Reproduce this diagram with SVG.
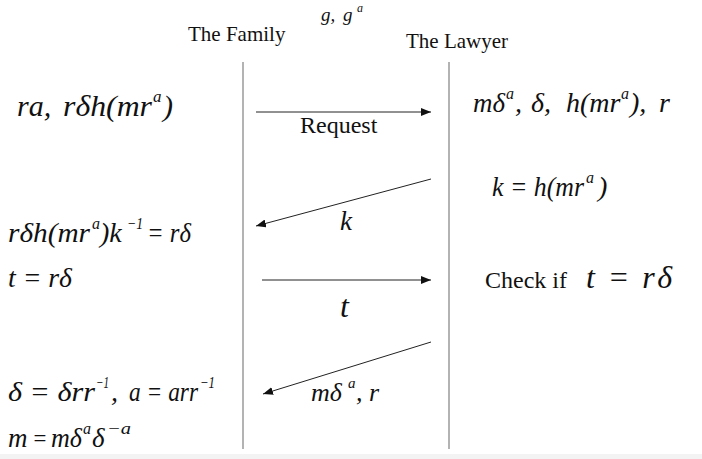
<svg xmlns="http://www.w3.org/2000/svg" width="702" height="459" viewBox="0 0 702 459">
<style>
.m { font-family: "Liberation Serif", "Times New Roman", serif; font-style: italic; fill: #111; }
.r { font-family: "Liberation Serif", "Times New Roman", serif; fill: #111; }
.life { stroke: #8a8a8a; stroke-width: 1.3; fill: none; }
.msg { stroke: #222; stroke-width: 1; fill: none; marker-end: url(#ah); }
</style>
<defs>
<marker id="ah" viewBox="0 0 10 8" refX="10" refY="4" markerWidth="10" markerHeight="8" markerUnits="userSpaceOnUse" orient="auto">
<path d="M0,0 L10,4 L0,8 Z" fill="#111"/>
</marker>
</defs>
<rect x="0" y="0" width="702" height="459" fill="#ffffff"/>
<rect x="0" y="454" width="702" height="5" fill="#f3f3f3"/>

<g id="params">
<text class="m" x="321" y="21" font-size="19">g,</text>
<text class="m" x="343" y="21" font-size="19">g</text>
<text class="m" x="357" y="12" font-size="12">a</text>
</g>

<g id="family">
<text class="r" x="188" y="41" font-size="21">The Family</text>
<line class="life" x1="243" y1="62" x2="243" y2="449"/>
</g>

<g id="lawyer">
<text class="r" x="406" y="48" font-size="21">The Lawyer</text>
<line class="life" x1="449" y1="62" x2="449" y2="449"/>
</g>

<g id="family-notes">
<g>
<text class="m" x="17" y="116" font-size="30">ra,</text>
<text class="m" x="63" y="116" font-size="30" textLength="89" lengthAdjust="spacingAndGlyphs">rδh(mr</text>
<text class="m" x="153" y="102" font-size="17">a</text>
<text class="m" x="163" y="116" font-size="30">)</text>
</g>
<g>
<text class="m" x="8" y="242" font-size="28" textLength="82" lengthAdjust="spacingAndGlyphs">rδh(mr</text>
<text class="m" x="92" y="229" font-size="16">a</text>
<text class="m" x="100" y="242" font-size="28">)k</text>
<text class="m" x="127" y="229" font-size="16" textLength="16" lengthAdjust="spacingAndGlyphs">−1</text>
<text class="m" x="147" y="242" font-size="28" textLength="44" lengthAdjust="spacingAndGlyphs">= rδ</text>
</g>
<text class="m" x="8" y="287" font-size="28" textLength="64" lengthAdjust="spacingAndGlyphs">t = rδ</text>
<g>
<text class="m" x="8" y="401" font-size="28" textLength="87" lengthAdjust="spacingAndGlyphs">δ = δrr</text>
<text class="m" x="96" y="388" font-size="16" textLength="13" lengthAdjust="spacingAndGlyphs">−1</text>
<text class="m" x="111" y="401" font-size="28">,</text>
<text class="m" x="129" y="401" font-size="28" textLength="69" lengthAdjust="spacingAndGlyphs">a = arr</text>
<text class="m" x="200" y="388" font-size="16" textLength="15" lengthAdjust="spacingAndGlyphs">−1</text>
</g>
<g>
<text class="m" x="8" y="447" font-size="27">m</text>
<text class="m" x="32" y="446" font-size="23">=</text>
<text class="m" x="51" y="447" font-size="27" textLength="31" lengthAdjust="spacingAndGlyphs">mδ</text>
<text class="m" x="83" y="434" font-size="16">a</text>
<text class="m" x="92" y="447" font-size="27">δ</text>
<text class="m" x="107" y="434" font-size="16" textLength="24" lengthAdjust="spacingAndGlyphs">−a</text>
</g>
</g>

<g id="lawyer-notes">
<g>
<text class="m" x="473" y="112" font-size="28" textLength="32" lengthAdjust="spacingAndGlyphs">mδ</text>
<text class="m" x="506" y="99" font-size="16">a</text>
<text class="m" x="515" y="112" font-size="28">,</text>
<text class="m" x="531" y="112" font-size="28">δ,</text>
<text class="m" x="566" y="112" font-size="28">h(mr</text>
<text class="m" x="621" y="99" font-size="16">a</text>
<text class="m" x="630" y="112" font-size="28">),</text>
<text class="m" x="659" y="112" font-size="28">r</text>
</g>
<g>
<text class="m" x="492" y="196" font-size="28" textLength="92" lengthAdjust="spacingAndGlyphs">k = h(mr</text>
<text class="m" x="586" y="183" font-size="16">a</text>
<text class="m" x="598" y="196" font-size="28">)</text>
</g>
<text class="r" x="485" y="288" font-size="24">Check if</text>
<text class="m" x="586" y="288" font-size="32" textLength="86" lengthAdjust="spacing">t = rδ</text>
</g>

<g id="connectors">
<line class="msg" x1="256" y1="112" x2="431" y2="112"/>
<line class="msg" x1="431" y1="179" x2="256" y2="226"/>
<line class="msg" x1="262" y1="280" x2="431" y2="280"/>
<line class="msg" x1="431" y1="342" x2="263" y2="394"/>
</g>

<g id="labels">
<text class="r" x="300" y="133" font-size="24">Request</text>
<text class="m" x="340" y="230" font-size="27">k</text>
<text class="m" x="340" y="317" font-size="32">t</text>
<g>
<text class="m" x="311" y="401" font-size="26">mδ</text>
<text class="m" x="348" y="388" font-size="15">a</text>
<text class="m" x="356" y="401" font-size="26">, r</text>
</g>
</g>
</svg>
